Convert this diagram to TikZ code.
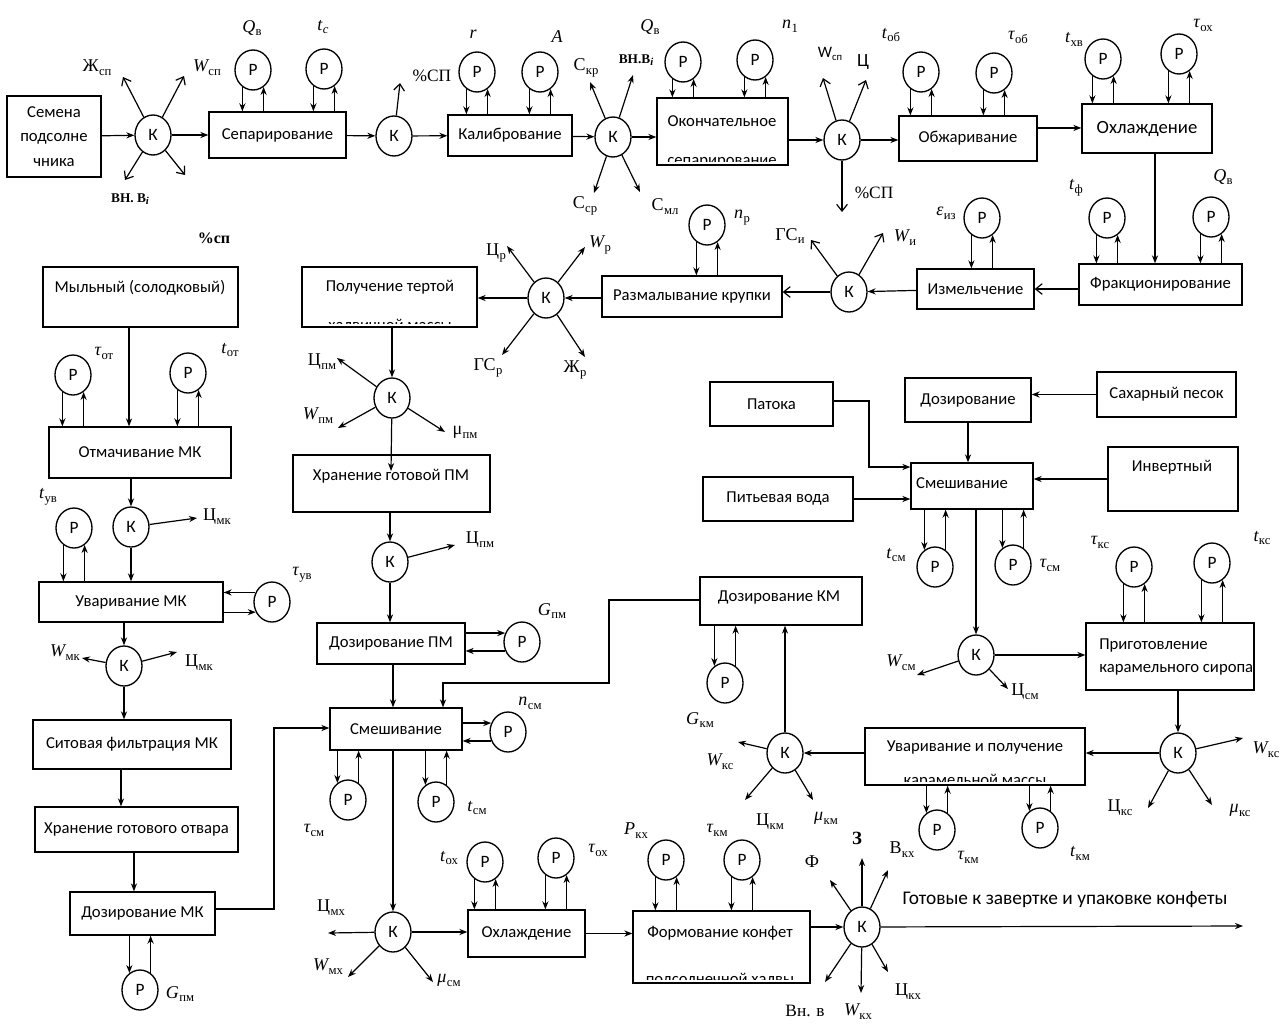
\documentclass[tikz,border=0pt]{standalone}
\usepackage{fontspec}
\setmainfont{Carlito}
\newfontfamily\lserif{Liberation Serif}
\usetikzlibrary{arrows.meta,shapes.geometric,fit}

\newcommand\bxf{\fontsize{12.5}{15}\selectfont}
\newcommand\crf{\fontsize{13}{15}\selectfont}
\newcommand\lbf{\fontsize{13.5}{16}\selectfont}
% italic variable with a subscript
\newcommand\vari[2]{{\lserif\itshape #1}\kern0.3pt\raisebox{-0.45ex}{\lserif\fontsize{9.5}{10}\selectfont #2}}
% upright symbol with a subscript
\newcommand\varu[2]{{\lserif #1}\kern0.3pt\raisebox{-0.45ex}{\lserif\fontsize{9.5}{10}\selectfont #2}}

% process box spanning two corners, with its text centred inside
\newcommand\pbox[5][]{\node[box,fit={#3 #4}] (#2) {}; \node[tx,#1] (#2-t) at (#2.center) {#5};}
% regulator loop above a box: down into the box, up into the regulator
\newcommand\lpup[2]{\draw[ar] (#1.238) -- (#1.238 |- #2.north); \draw[ar] (#2.north -| #1.302) -- (#1.302);}
% regulator loop below a box: down into the regulator, up into the box
\newcommand\lpdn[2]{\draw[ar] (#2.south -| #1.122) -- (#1.122); \draw[ar] (#1.58) -- (#1.58 |- #2.south);}
% regulator loop right of a box
\newcommand\lprt[2]{\draw[ar] (#2.east |- #1.152) -- (#1.152); \draw[ar] (#1.208) -- (#1.208 -| #2.east);}

\tikzset{
  box/.style={draw, line width=1pt, inner sep=0pt},
  tx/.style={inner sep=0pt, font=\bxf},
  pc/.style={draw, ellipse, line width=1pt, minimum width=27pt, minimum height=30pt, inner sep=0pt, font=\crf},
  lb/.style={inner sep=1pt, font=\lbf},
  ar/.style={line width=0.9pt, -{Stealth[length=6pt,width=4.6pt]}},
  br/.style={line width=0.9pt, -{Straight Barb[length=5pt,width=8pt]}},
  ln/.style={line width=0.9pt},
}

\begin{document}
\begin{tikzpicture}[x=0.75pt,y=-0.75pt]
\fill[white] (0,0) rectangle (1287,1028);
\useasboundingbox (0,0) rectangle (1287,1028);

% ================= upper line: preparation of kernels =================
\pbox[align=center,font=\fontsize{12.5}{18.4}\selectfont]{seed}{(7,96)}{(101,177)}{Семена\\подсолне\\чника}
\node[pc] (k1) at (153,135) {К};
\pbox{sep}{(209,112)}{(346,158)}{Сепарирование}
\node[pc] (p1) at (253,70) {Р};
\node[pc] (p2) at (324,69) {Р};
\node[pc] (k2) at (394,136) {К};
\pbox{kal}{(448,115)}{(572,156)}{Калибрование}
\node[pc] (p3) at (477,72) {Р};
\node[pc] (p4) at (540,72) {Р};
\node[pc] (k3) at (613,137) {К};
\node[box,fit={(657,98)(788,165)}] (ok) {};
\node[tx] (ok-t) at (722,121) {Окончательное};
\begin{scope}
  \clip (657,98) rectangle (788,161);
  \node[tx,anchor=base] (ok-b) at (722,165) {сепарирование};
\end{scope}
\node[pc] (p5) at (683,62) {Р};
\node[pc] (p6) at (755,60) {Р};
\node[pc] (k4) at (842,140) {К};
\pbox{obz}{(899,116)}{(1037,161)}{Обжаривание}
\node[pc] (p7) at (921,72) {Р};
\node[pc] (p8) at (994,73) {Р};
\pbox[font=\fontsize{14}{16}\selectfont]{ohl}{(1082,104)}{(1212,153)}{Охлаждение}
\node[pc] (p9) at (1103,59) {Р};
\node[pc] (p10) at (1179,54) {Р};
\pbox{frk}{(1079,264)}{(1242,305)}{Фракционирование}
\node[pc] (p11) at (1107,218) {Р};
\node[pc] (p12) at (1211,217) {Р};
\pbox{izm}{(917,269)}{(1034,309)}{Измельчение}
\node[pc] (p13) at (982,218) {Р};
\node[pc] (k5) at (849,292) {К};
\pbox{raz}{(602,276)}{(782,317)}{Размалывание крупки}
\node[pc] (p14) at (707,225) {Р};
\node[pc] (k6) at (546,298) {К};
\node[box,fit={(302,267)(477,327)}] (pol) {};
\node[tx] (pol-t) at (390,287) {Получение тертой};
\begin{scope}
  \clip (302,267) rectangle (477,323);
  \node[tx,anchor=base] (pol-b) at (390,330) {халвичной массы};
\end{scope}

% connectors of the upper line
\coordinate (c1a) at (123,77);
\coordinate (c1b) at (184,76);
\coordinate (c1c) at (125,180);
\coordinate (c1d) at (185,175);
\draw[ar] (seed) -- (k1);
\draw[br] (k1) -- (c1a);
\draw[br] (k1) -- (c1b);
\draw[br] (k1) -- (c1c);
\draw[br] (k1) -- (c1d);
\draw[ar] (k1) -- (sep);
\lpup{p1}{sep} \lpup{p2}{sep}
\draw[ar] (sep) -- (k2);
\coordinate (c2a) at (400,83);
\draw[br] (k2) -- (c2a);
\draw[ar] (k2) -- (kal);
\lpup{p3}{kal} \lpup{p4}{kal}
\draw[ar] (kal) -- (k3);
\coordinate (c3a) at (590,82);
\coordinate (c3b) at (633,75);
\coordinate (c3c) at (594,193);
\coordinate (c3d) at (640,192);
\draw[ar] (k3) -- (c3a);
\draw[ar] (k3) -- (c3b);
\draw[ar] (k3) -- (c3c);
\draw[ar] (k3) -- (c3d);
\draw[ar] (k3) -- (k3 -| ok.west);
\lpup{p5}{ok} \lpup{p6}{ok}
\draw[ar] (ok.east |- k4) -- (k4);
\coordinate (c4a) at (823,78);
\coordinate (c4b) at (866,80);
\coordinate (c4c) at (842,212);
\draw[br] (k4) -- (c4a);
\draw[br] (k4) -- (c4b);
\draw[br] (k4) -- (c4c);
\draw[ar] (k4) -- (k4 -| obz.west);
\lpup{p7}{obz} \lpup{p8}{obz}
\draw[ar] ([yshift=7.9pt]obz.east) -- ([yshift=7.9pt]obz.east -| ohl.west);
\lpup{p9}{ohl} \lpup{p10}{ohl}
\draw[ar] ([xshift=6pt]ohl.south) -- ([xshift=6pt]ohl.south |- frk.north);
\lpup{p11}{frk} \lpup{p12}{frk}
\draw[br] (frk.west |- izm) -- (izm.east);
\lpup{p13}{izm}
\draw[ar] (izm) -- (k5);
\coordinate (c5a) at (811,240);
\coordinate (c5b) at (883,233);
\draw[br] (k5) -- (c5a);
\draw[br] (k5) -- (c5b);
\draw[br] (k5) -- (k5 -| raz.east);
\lpup{p14}{raz}
\draw[ar] (raz.west |- k6) -- (k6);
\coordinate (c6a) at (507,246);
\coordinate (c6b) at (585,247);
\coordinate (c6c) at (502,355);
\coordinate (c6d) at (585,357);
\draw[ar] (k6) -- (c6a);
\draw[ar] (k6) -- (c6b);
\draw[ar] (k6) -- (c6c);
\draw[ar] (k6) -- (c6d);
\draw[ar] (k6) -- (k6 -| pol.east);

% labels of the upper line
\node[lb] (l1) at (97,68) {\varu{Ж}{сп}};
\node[lb] (l2) at (207,68) {\vari{W}{сп}};
\node[lb,font=\lserif\bfseries\fontsize{10}{12}\selectfont] (l3) at (130,199) {ВН. В\raisebox{-0.4ex}{\itshape\fontsize{8}{9}\selectfont i}};
\node[lb,font=\lserif\bfseries\fontsize{12}{14}\selectfont] (l4) at (214,238) {\%сп};
\node[lb] (l5) at (252,28) {\vari{Q}{в}};
\node[lb] (l6) at (323,27) {\vari{t}{\itshape c}};
\node[lb,font=\lserif\fontsize{13}{15}\selectfont] (l7) at (432,76) {\%СП};
\node[lb] (l8) at (473,34) {{\lserif\itshape r}};
\node[lb] (l9) at (557,37) {{\lserif\itshape A}};
\node[lb] (l10) at (586,68) {\varu{С}{кр}};
\node[lb,font=\lserif\bfseries\fontsize{10}{12}\selectfont] (l11) at (636,60) {ВН.В\raisebox{-0.4ex}{\itshape\fontsize{8}{9}\selectfont i}};
\node[lb] (l12) at (585,206) {\varu{С}{ср}};
\node[lb] (l13) at (665,207) {\varu{С}{мл}};
\node[lb] (l14) at (650,27) {\vari{Q}{в}};
\node[lb] (l15) at (790,26) {\vari{n}{1}};
\node[lb,font=\fontsize{12}{14}\selectfont] (l16) at (830,54) {W\raisebox{-0.3ex}{\fontsize{8}{9}\selectfont сп}};
\node[lb,font=\fontsize{14}{16}\selectfont] (l17) at (863,62) {Ц};
\node[lb] (l18) at (891,35) {\vari{t}{об}};
\node[lb] (l19) at (1018,37) {\vari{τ}{об}};
\node[lb] (l20) at (1074,39) {\vari{t}{хв}};
\node[lb] (l21) at (1203,25) {\vari{τ}{ох}};
\node[lb,font=\lserif\fontsize{13}{15}\selectfont] (l22) at (874,193) {\%СП};
\node[lb] (l23) at (1076,188) {\vari{t}{ф}};
\node[lb] (l24) at (1223,177) {\vari{Q}{в}};
\node[lb] (l25) at (946,213) {\vari{ε}{из}};
\node[lb] (l26) at (905,238) {\vari{W}{и}};
\node[lb] (l27) at (790,236) {\varu{ГС}{и}};
\node[lb] (l28) at (742,218) {\vari{n}{р}};
\node[lb] (l29) at (496,253) {\varu{Ц}{р}};
\node[lb] (l30) at (600,245) {\vari{W}{р}};
\node[lb] (l31) at (488,368) {\varu{ГС}{р}};
\node[lb] (l32) at (575,370) {\varu{Ж}{р}};

% ================= middle column: paste =================
\node[pc] (k7) at (392,398) {К};
\node[box,fit={(293,455)(490,512)}] (hpm) {};
\node[tx] (hpm-t) at (391,476) {Хранение готовой ПМ};
\node[pc] (k8) at (390,562) {К};
\pbox{dpm}{(317,623)}{(465,664)}{Дозирование ПМ}
\node[pc] (p15) at (522,642) {Р};
\pbox{smA}{(330,708)}{(462,750)}{Смешивание}
\node[pc] (p16) at (508,732) {Р};
\node[pc] (p17) at (348,800) {Р};
\node[pc] (p18) at (436,802) {Р};
\node[pc] (k9) at (393,932) {К};
\pbox{ohB}{(468,910)}{(585,957)}{Охлаждение}
\node[pc] (p19) at (485,862) {Р};
\node[pc] (p20) at (556,858) {Р};
\node[box,fit={(633,911)(810,983)}] (frm) {};
\node[tx] (frm-t) at (720,933) {Формование конфет};
\begin{scope}
  \clip (633,911) rectangle (810,979);
  \node[tx,anchor=base] (frm-b) at (720,984) {подсолнечной халвы};
\end{scope}
\node[pc] (p21) at (666,860) {Р};
\node[pc] (p22) at (742,860) {Р};
\node[pc] (k10) at (862,927) {К};

\draw[ar] (pol.south -| k7) -- (k7);
\coordinate (c7a) at (337,358);
\coordinate (c7b) at (338,428);
\coordinate (c7c) at (445,432);
\coordinate (hpmin) at (391,471);
\draw[ar] (k7) -- (c7a);
\draw[ar] (k7) -- (c7b);
\draw[ar] (k7) -- (c7c);
\draw[ar] (k7) -- (hpmin);
\draw[ar] (hpm.south -| k8) -- (k8);
\coordinate (c8a) at (455,545);
\draw[ar] (k8) -- (c8a);
\draw[ar] (k8) -- (k8 |- dpm.north);
\lprt{p15}{dpm}
\draw[ar] ([xshift=1.5pt]dpm.south) -- ([xshift=1.5pt]dpm.south |- smA.north);
\lprt{p16}{smA}
\lpdn{p17}{smA} \lpdn{p18}{smA}
\draw[ar] (smA.south -| k9) -- (k9);
\coordinate (c9a) at (328,933);
\coordinate (c9b) at (348,977);
\coordinate (c9c) at (433,982);
\draw[ar] (k9) -- (c9a);
\draw[ar] (k9) -- (c9b);
\draw[ar] (k9) -- (c9c);
\draw[ar] (k9) -- (k9 -| ohB.west);
\lpup{p19}{ohB} \lpup{p20}{ohB}
\draw[ar] (ohB.east) -- (ohB.east -| frm.west);
\lpup{p21}{frm} \lpup{p22}{frm}
\draw[ar] (frm.east |- k10) -- (k10);
\coordinate (c10a) at (830,880);
\coordinate (c10b) at (862,858);
\coordinate (c10c) at (888,870);
\coordinate (c10d) at (825,982);
\coordinate (c10e) at (861,993);
\coordinate (c10f) at (888,972);
\coordinate (fin) at (1243,926);
\draw[ar] (k10) -- (c10a);
\draw[ar] (k10) -- (c10b);
\draw[ar] (k10) -- (c10c);
\draw[ar] (k10) -- (c10d);
\draw[ar] (k10) -- (c10e);
\draw[ar] (k10) -- (c10f);
\draw[ar] (k10) -- (fin);

\node[lb] (l33) at (322,362) {\varu{Ц}{пм}};
\node[lb] (l34) at (318,416) {\vari{W}{пм}};
\node[lb] (l35) at (465,432) {\varu{μ}{пм}};
\node[lb] (l36) at (480,540) {\varu{Ц}{пм}};
\node[lb] (l37) at (552,611) {\vari{G}{пм}};
\node[lb] (l38) at (530,703) {\vari{n}{см}};
\node[lb] (l39) at (314,830) {\vari{τ}{см}};
\node[lb] (l40) at (477,808) {\vari{t}{см}};
\node[lb] (l41) at (331,908) {\varu{Ц}{мх}};
\node[lb] (l42) at (328,967) {\vari{W}{мх}};
\node[lb] (l43) at (449,980) {\vari{μ}{см}};
\node[lb] (l44) at (449,858) {\vari{t}{ох}};
\node[lb] (l45) at (598,850) {\vari{τ}{ох}};
\node[lb] (l46) at (636,831) {\vari{P}{кх}};
\node[lb] (l47) at (717,830) {\vari{τ}{км}};
\node[lb] (l48) at (812,862) {{\lserif Ф}};
\node[lb,font=\lserif\bfseries\fontsize{14}{16}\selectfont] (l49) at (857,838) {З};
\node[lb] (l50) at (902,850) {\varu{В}{кх}};
\node[lb,font=\lserif\fontsize{13}{15}\selectfont] (l51) at (805,1011) {Вн. в};
\node[lb] (l52) at (858,1012) {\vari{W}{кх}};
\node[lb] (l53) at (908,992) {\varu{Ц}{кх}};
\node[lb,font=\fontsize{14.5}{16}\selectfont] (l54) at (1065,900) {Готовые к завертке и упаковке конфеты};

% ================= right part: caramel =================
\pbox{pat}{(710,382)}{(833,426)}{Патока}
\pbox{doz}{(905,378)}{(1031,422)}{Дозирование}
\pbox{sah}{(1097,372)}{(1236,417)}{Сахарный песок}
\node[box,fit={(911,463)(1033,509)}] (smB) {};
\node[tx] (smB-t) at (962,483) {Смешивание};
\node[box,fit={(1108,447)(1238,511)}] (inv) {};
\node[tx] (inv-t) at (1172,467) {Инвертный};
\pbox{pit}{(703,477)}{(853,521)}{Питьевая вода}
\node[pc] (p23) at (935,567) {Р};
\node[pc] (p24) at (1013,565) {Р};
\node[pc] (k12) at (976,655) {К};
\node[box,fit={(1086,623)(1254,690)}] (prg) {};
\node[tx,align=left,anchor=west,font=\fontsize{12.5}{17.3}\selectfont] (prg-t) at (1099,657) {Приготовление\\карамельного сиропа};
\node[pc] (p25) at (1134,567) {Р};
\node[pc] (p26) at (1212,563) {Р};
\node[pc] (k13) at (1178,753) {К};
\node[box,fit={(865,728)(1085,785)}] (uvk) {};
\node[tx] (uvk-t) at (975,747) {Уваривание и получение};
\begin{scope}
  \clip (865,728) rectangle (1085,781);
  \node[tx,anchor=base] (uvk-b) at (975,785) {карамельной массы};
\end{scope}
\node[pc] (p27) at (937,830) {Р};
\node[pc] (p28) at (1040,828) {Р};
\node[pc] (k11) at (785,753) {К};
\node[box,fit={(700,577)(862,625)}] (dkm) {};
\node[tx] (dkm-t) at (779,597) {Дозирование КМ};
\node[pc] (p29) at (725,683) {Р};

\draw[ar] (sah.west) -- (sah.west -| doz.east);
\draw[ar] (doz.south) -- (doz.south |- smB.north);
\draw[ar] (inv.west) -- (inv.west -| smB.east);
\coordinate (j6) at (869,401);
\coordinate (j7) at (869,467);
\draw[ar] (pat.east |- j6) -- (j6) -- (j7) -- (j7 -| smB.west);
\draw[ar] (pit.east) -- (pit.east -| smB.west);
\lpdn{p23}{smB} \lpdn{p24}{smB}
\draw[ar] (smB.south -| k12) -- (k12);
\draw[ar] (k12) -- (k12 -| prg.west);
\coordinate (c12a) at (917,675);
\coordinate (c12b) at (1008,689);
\draw[ar] (k12) -- (c12a);
\draw[ar] (k12) -- (c12b);
\lpup{p25}{prg} \lpup{p26}{prg}
\draw[ar] (prg.south -| k13) -- (k13);
\draw[ar] (k13) -- (k13 -| uvk.east);
\coordinate (c13a) at (1243,738);
\coordinate (c13b) at (1148,808);
\coordinate (c13c) at (1212,805);
\draw[ar] (k13) -- (c13a);
\draw[ar] (k13) -- (c13b);
\draw[ar] (k13) -- (c13c);
\draw[ar] (uvk.west |- k11) -- (k11);
\lpdn{p27}{uvk} \lpdn{p28}{uvk}
\draw[ar] (k11) -- (k11 |- dkm.south);
\coordinate (c11a) at (738,742);
\coordinate (c11b) at (745,800);
\coordinate (c11c) at (813,800);
\draw[ar] (k11) -- (c11a);
\draw[ar] (k11) -- (c11b);
\draw[ar] (k11) -- (c11c);
\lpdn{p29}{dkm}
\coordinate (j1) at (609,600);
\coordinate (j2) at (609,683);
\coordinate (j3) at (443,683);
\draw[ar] (dkm.west |- j1) -- (j1) -- (j2) -- (j3) -- (j3 |- smA.north);

\node[lb] (l55) at (896,555) {\vari{t}{см}};
\node[lb] (l56) at (1050,565) {\vari{τ}{см}};
\node[lb] (l57) at (901,663) {\vari{W}{см}};
\node[lb] (l58) at (1025,692) {\varu{Ц}{см}};
\node[lb] (l59) at (1100,542) {\vari{τ}{кс}};
\node[lb] (l60) at (1262,538) {\vari{t}{кс}};
\node[lb] (l61) at (1266,750) {\vari{W}{кс}};
\node[lb] (l62) at (1120,808) {\varu{Ц}{кс}};
\node[lb] (l63) at (1240,810) {\vari{μ}{кс}};
\node[lb] (l64) at (968,857) {\vari{τ}{км}};
\node[lb] (l65) at (1080,853) {\vari{t}{км}};
\node[lb] (l66) at (720,762) {\vari{W}{кс}};
\node[lb] (l67) at (770,822) {\varu{Ц}{км}};
\node[lb] (l68) at (826,818) {\vari{μ}{км}};
\node[lb] (l69) at (700,720) {\vari{G}{км}};

% ================= left column: liquorice extract =================
\node[box,fit={(43,267)(238,327)}] (myl) {};
\node[tx] (myl-t) at (140,288) {Мыльный (солодковый)};
\node[pc] (p30) at (73,375) {Р};
\node[pc] (p31) at (188,373) {Р};
\pbox{otm}{(49,427)}{(231,478)}{Отмачивание МК}
\node[pc] (k14) at (131,527) {К};
\node[pc] (p32) at (74,528) {Р};
\pbox{uvm}{(39,582)}{(223,622)}{Уваривание МК}
\node[pc] (p33) at (272,602) {Р};
\node[pc] (k15) at (124,666) {К};
\pbox{sit}{(33,720)}{(231,769)}{Ситовая фильтрация МК}
\pbox{hot}{(35,807)}{(238,852)}{Хранение готового отвара}
\pbox{dmk}{(70,892)}{(215,935)}{Дозирование МК}
\node[pc] (p34) at (140,990) {Р};

\draw[ar] ([xshift=-8.6pt]myl.south) -- ([xshift=-8.6pt]myl.south |- otm.north);
\lpup{p30}{otm} \lpup{p31}{otm}
\draw[ar] (otm.south -| k14) -- (k14);
\coordinate (c14a) at (197,518);
\draw[ar] (k14) -- (c14a);
\draw[ar] (k14) -- (k14 |- uvm.north);
\lpup{p32}{uvm}
\draw[ar] (p33.150) -- (p33.150 -| uvm.east);
\draw[ar] (uvm.east |- p33.212) -- (p33.212);
\draw[ar] (uvm.south -| k15) -- (k15);
\coordinate (c15a) at (82,658);
\coordinate (c15b) at (177,652);
\draw[ar] (k15) -- (c15a);
\draw[ar] (k15) -- (c15b);
\draw[ar] (k15) -- (k15 |- sit.north);
\draw[ar] ([xshift=-8.25pt]sit.south) -- ([xshift=-8.25pt]sit.south |- hot.north);
\draw[ar] ([xshift=-1.9pt]hot.south) -- ([xshift=-1.9pt]hot.south |- dmk.north);
\lpdn{p34}{dmk}
\coordinate (j4) at (274,909);
\coordinate (j5) at (274,728);
\draw[ar] (dmk.east |- j4) -- (j4) -- (j5) -- (j5 -| smA.west);

\node[lb] (l70) at (104,353) {\vari{τ}{от}};
\node[lb] (l71) at (230,350) {\vari{t}{от}};
\node[lb] (l72) at (217,517) {\varu{Ц}{мк}};
\node[lb] (l73) at (48,497) {\vari{t}{ув}};
\node[lb] (l74) at (302,575) {\vari{τ}{ув}};
\node[lb] (l75) at (65,653) {\vari{W}{мк}};
\node[lb] (l76) at (199,663) {\varu{Ц}{мк}};
\node[lb] (l77) at (180,994) {\vari{G}{пм}};
\end{tikzpicture}
\end{document}
